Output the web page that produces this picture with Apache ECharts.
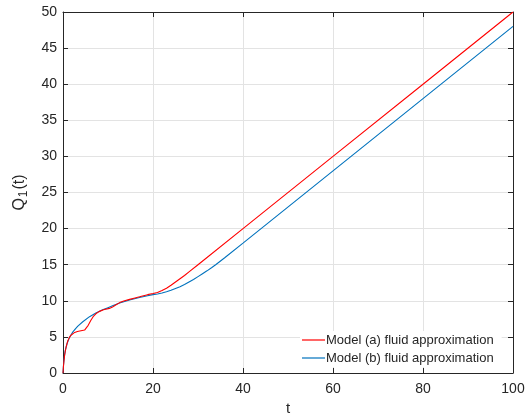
<!DOCTYPE html>
<html>
<head>
<meta charset="utf-8">
<title>Q1(t) fluid approximation</title>
<script src="https://cdn.jsdelivr.net/npm/echarts@6/dist/echarts.min.js"></script>
<style>
  html, body { margin: 0; padding: 0; background: #ffffff; }
  #chart { width: 531px; height: 419px; }
</style>
</head>
<body>
<div id="chart"></div>
<script>
// Time samples and queue lengths for the two fluid models
var tA = [0, 0.1, 0.2, 0.35, 0.5, 0.7, 0.9, 1.1, 1.4, 1.7, 2.1, 2.6, 3.2, 4.0, 4.8, 5.2, 5.6, 6.2, 6.7, 7.3, 8.0, 9.0, 10.3, 11.0, 11.8, 12.6, 13.5, 14.8, 16, 17, 18.8, 20, 21, 22, 23, 24, 25, 26, 27, 28, 30, 40, 60, 80, 100];
var qA = [0, 0.9, 1.6, 2.4, 3.0, 3.6, 4.1, 4.5, 4.9, 5.2, 5.45, 5.62, 5.75, 5.85, 5.95, 6.1, 6.6, 7.3, 7.8, 8.2, 8.5, 8.75, 8.95, 9.15, 9.45, 9.75, 9.98, 10.2, 10.4, 10.55, 10.85, 11.0, 11.15, 11.42, 11.75, 12.15, 12.6, 13.05, 13.5, 14.0, 15.0, 20.0, 30.0, 40.0, 50.0];

var tB = [0, 0.1, 0.2, 0.35, 0.5, 0.7, 0.9, 1.1, 1.4, 1.8, 2.2, 2.8, 3.3, 4.4, 5.9, 7.3, 8.8, 10, 11, 12.6, 14.8, 17, 18.8, 20, 21, 22, 23, 24, 25, 26, 27, 28, 29, 30, 31, 32, 33, 34, 36, 40, 60, 80, 100];
var qB = [0, 1.0, 1.7, 2.5, 3.1, 3.6, 4.05, 4.4, 4.85, 5.3, 5.7, 6.15, 6.5, 7.1, 7.8, 8.3, 8.75, 9.05, 9.3, 9.7, 10.1, 10.45, 10.7, 10.85, 10.95, 11.08, 11.25, 11.45, 11.7, 11.95, 12.25, 12.6, 12.95, 13.35, 13.75, 14.15, 14.58, 15.03, 15.99, 17.98, 28.0, 38.0, 48.0];

var seriesNames = ['Model (a) fluid approximation', 'Model (b) fluid approximation'];

function pairs(xs, ys) {
  return xs.map(function (x, i) { return [x, ys[i]]; });
}

var FONT = "'Liberation Sans', Arial, Helvetica, sans-serif";
var INK = '#262626';
var GRID = '#e3e3e3';

var chart = echarts.init(document.getElementById('chart'), null, { renderer: 'canvas' });

function xAxisCfg(pos, primary) {
  return {
    type: 'value', position: pos, min: 0, max: 100, interval: 20,
    axisLine: { show: true, onZero: false, lineStyle: { color: INK, width: 1 } },
    axisTick: { show: true, inside: true, length: 5, lineStyle: { color: INK } },
    axisLabel: { show: primary, color: INK, fontFamily: FONT, fontSize: 14, margin: 9 },
    splitLine: { show: primary, lineStyle: { color: GRID, width: 1 } },
    name: primary ? 't' : '',
    nameLocation: 'middle', nameGap: 27,
    nameTextStyle: { color: INK, fontFamily: FONT, fontSize: 15 }
  };
}

function yAxisCfg(pos, primary) {
  return {
    type: 'value', position: pos, min: 0, max: 50, interval: 5,
    axisLine: { show: true, onZero: false, lineStyle: { color: INK, width: 1 } },
    axisTick: { show: true, inside: true, length: 5, lineStyle: { color: INK } },
    axisLabel: { show: primary, color: INK, fontFamily: FONT, fontSize: 14, margin: 6 },
    splitLine: { show: primary, lineStyle: { color: GRID, width: 1 } },
    name: primary ? '{q|Q}{s|1}{q|(t)}' : '',
    nameLocation: 'middle', nameGap: 33, nameRotate: 90,
    nameTextStyle: {
      color: INK, fontFamily: FONT,
      rich: {
        q: { fontSize: 16, color: INK, fontFamily: FONT },
        s: { fontSize: 12, color: INK, fontFamily: FONT, padding: [9, 1, 0, 1] }
      }
    }
  };
}

chart.setOption({
  animation: false,
  backgroundColor: '#ffffff',
  grid: { left: 63, right: 18, top: 12, bottom: 46, containLabel: false, outerBoundsMode: 'none' },
  xAxis: [xAxisCfg('bottom', true), xAxisCfg('top', false)],
  yAxis: [yAxisCfg('left', true), yAxisCfg('right', false)],
  legend: {
    orient: 'vertical', left: 300, top: 331,
    padding: [2, 8, 2, 2], itemGap: 4,
    backgroundColor: '#ffffff', borderWidth: 0,
    icon: 'rect', itemWidth: 23, itemHeight: 1.2,
    textStyle: { color: INK, fontFamily: FONT, fontSize: 13, lineHeight: 14, padding: [0, 0, 0, -4] },
    data: seriesNames
  },
  series: [
    {
      name: seriesNames[0], type: 'line', xAxisIndex: 0, yAxisIndex: 0,
      data: pairs(tA, qA), showSymbol: false, smooth: false,
      lineStyle: { color: '#ff0000', width: 1.1 }, itemStyle: { color: '#ff0000' }, z: 3
    },
    {
      name: seriesNames[1], type: 'line', xAxisIndex: 0, yAxisIndex: 0,
      data: pairs(tB, qB), showSymbol: false, smooth: false,
      lineStyle: { color: '#0072bd', width: 1.1 }, itemStyle: { color: '#0072bd' }, z: 2
    }
  ]
});
</script>
</body>
</html>
